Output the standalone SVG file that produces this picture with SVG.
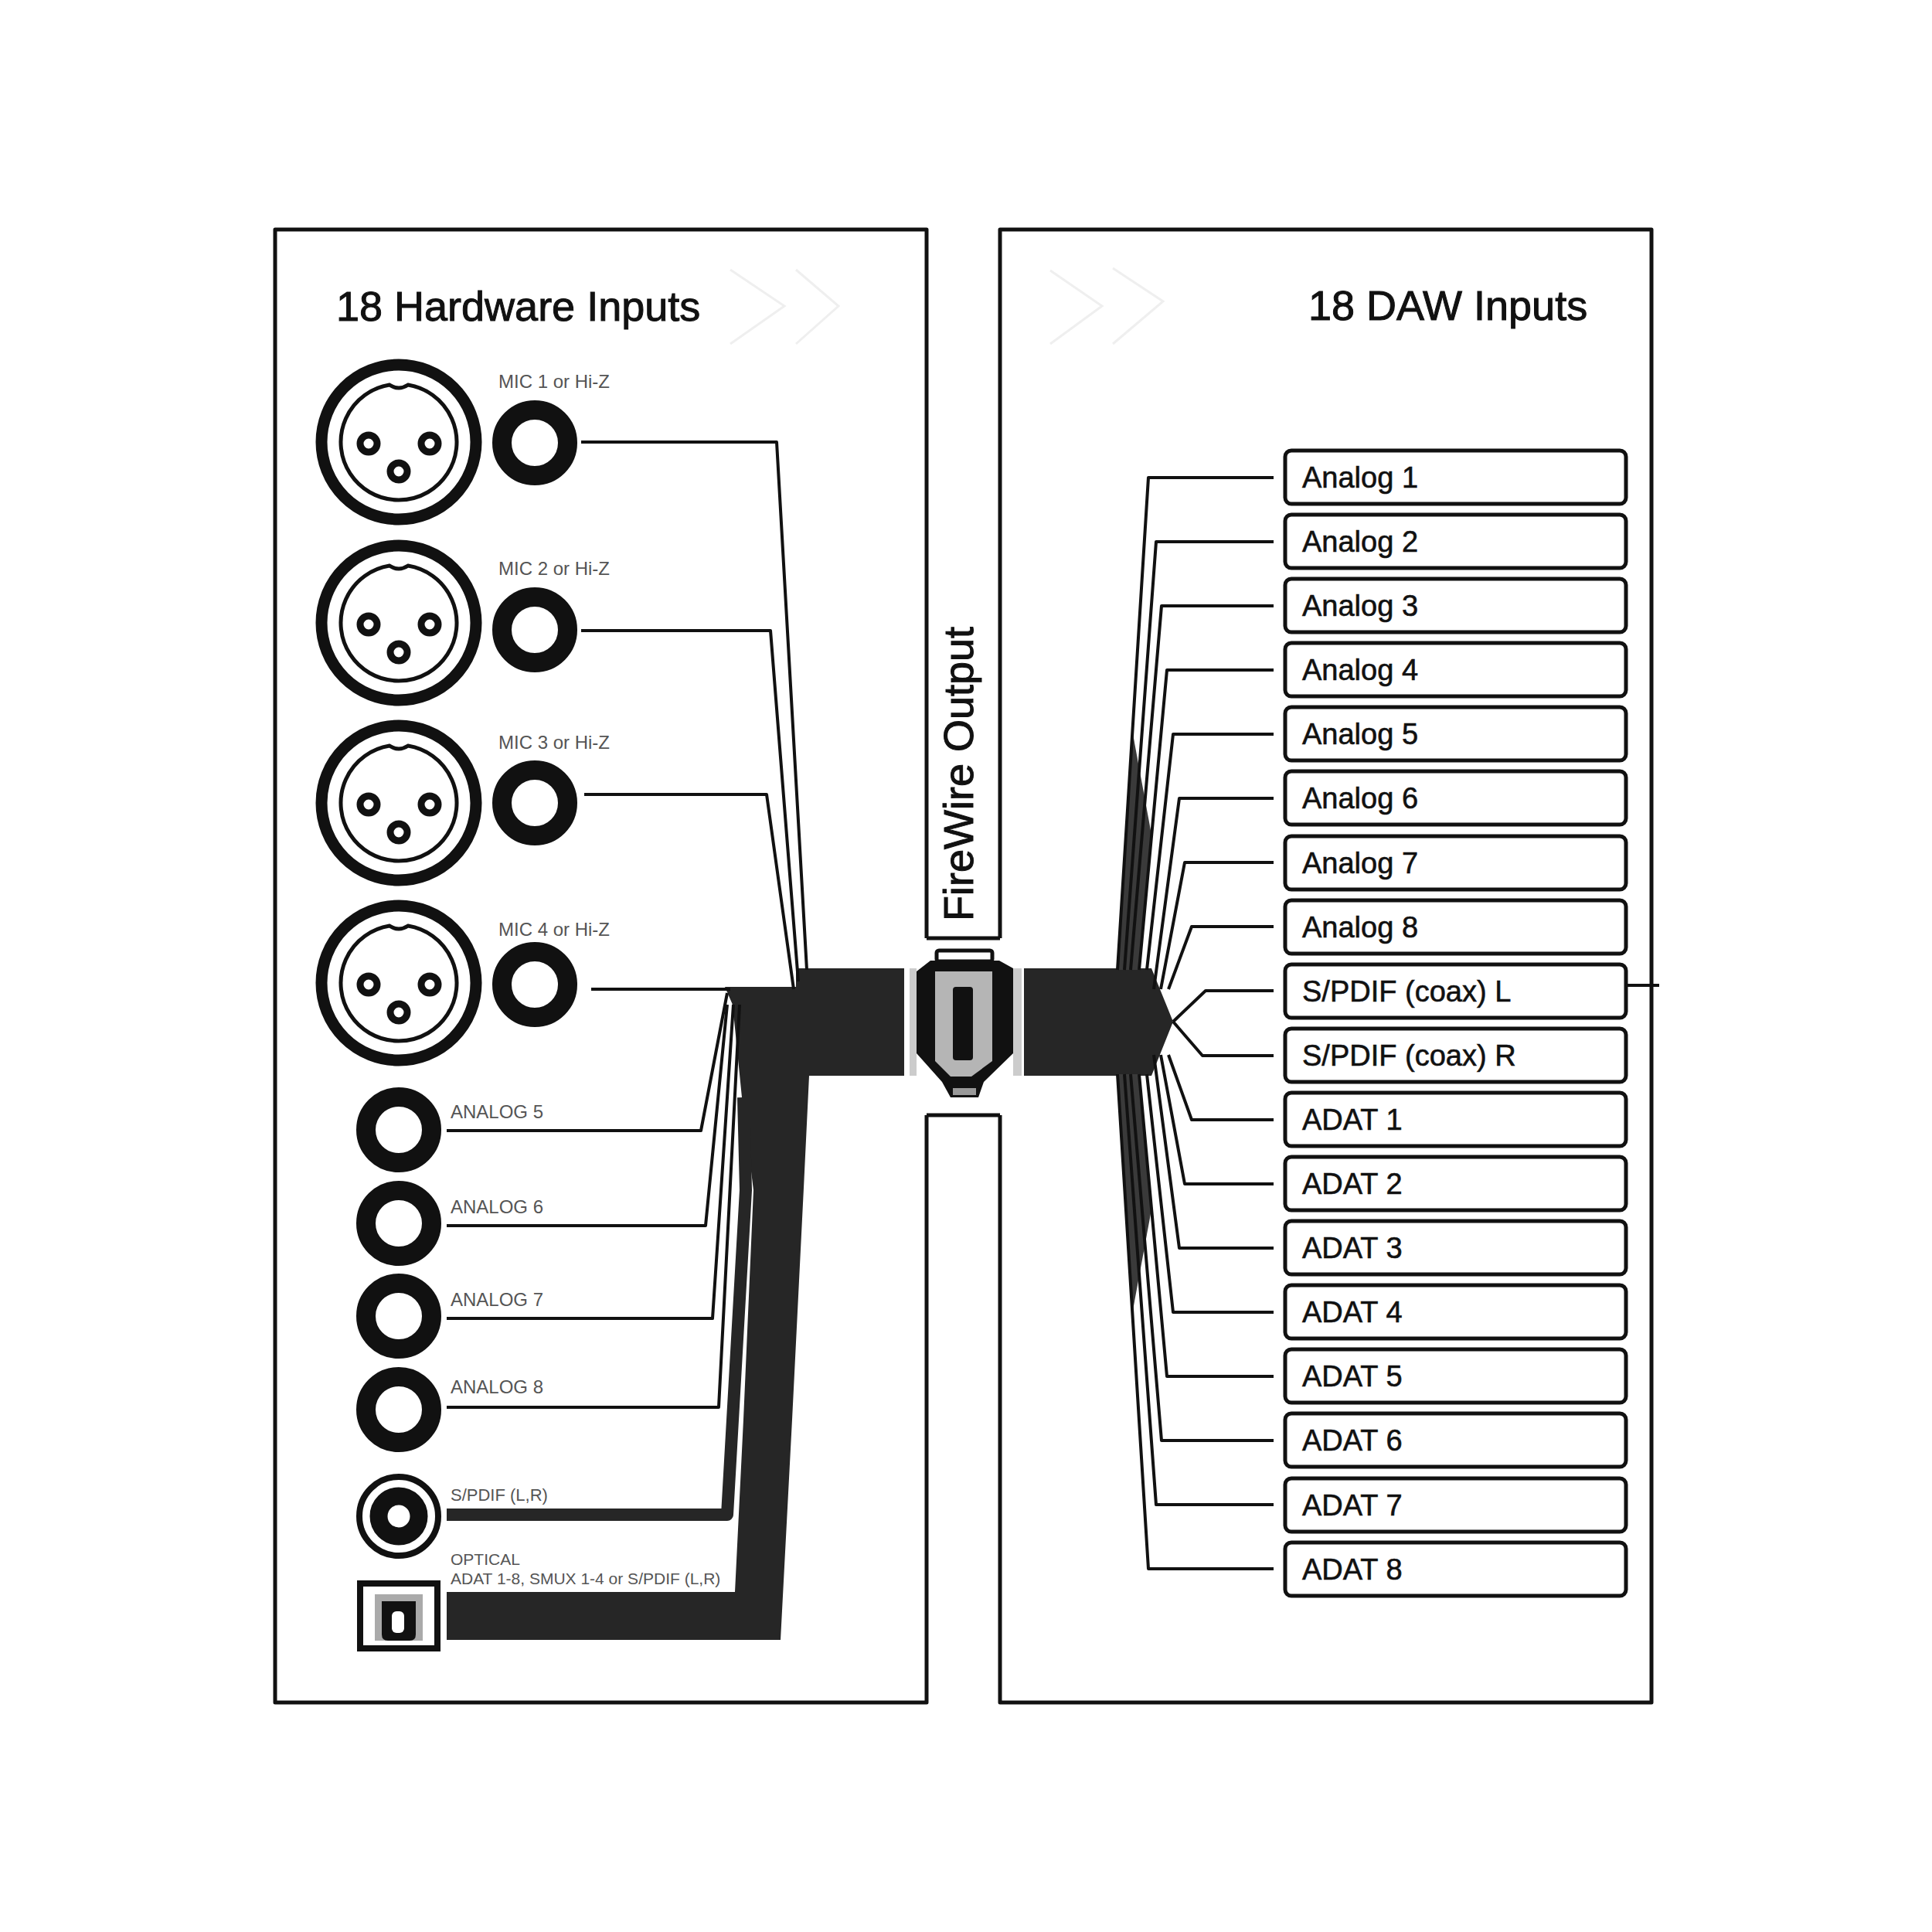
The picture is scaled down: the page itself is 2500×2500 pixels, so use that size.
<svg xmlns="http://www.w3.org/2000/svg" width="2500" height="2500" viewBox="0 0 2500 2500">
<style>
text{font-family:"Liberation Sans",Arial,sans-serif;fill:#111}
.title{font-size:54px;stroke:#111;stroke-width:1}
.small{font-size:24px;fill:#555}
.tiny{font-size:21px;fill:#555}
.box{fill:#fff;stroke:#111;stroke-width:5}
.name{font-size:38px;stroke:#111;stroke-width:.6}
.panel{fill:none;stroke:#111;stroke-width:5;stroke-linejoin:round}
.wire{fill:none;stroke:#111;stroke-width:4;stroke-linejoin:round}
.bus{fill:#262626;stroke:none}
.mass{fill:#3a3a3a;stroke:none}
.chev{fill:none;stroke:#efefef;stroke-width:3}
</style>
<defs>
<g id="xlr">
<circle r="100" fill="#fff" stroke="#111" stroke-width="15"/>
<path d="M-12,-74 A75,75 0 1 0 12,-74 Q0,-66 -12,-74Z" fill="none" stroke="#111" stroke-width="5"/>
<circle cx="-39" cy="2" r="11" fill="#fff" stroke="#111" stroke-width="9"/>
<circle cx="40" cy="2" r="11" fill="#fff" stroke="#111" stroke-width="9"/>
<circle cx="0" cy="38" r="11" fill="#fff" stroke="#111" stroke-width="9"/>
</g>
<circle id="jack" r="42.500" fill="#fff" stroke="#111" stroke-width="25"/>
</defs>

<g id="panels">
<path class="panel" d="M1199,1214V297H356V2203H1199V1443"/>
<path class="panel" d="M1294,1214V297H2137V2203H1294V1443"/>
<path class="panel" d="M1199,1214H1294M1199,1443H1294"/>
</g>
<g id="chevrons">
<path class="chev" d="M945,349L1015,396L945,445M1030,349L1085,396L1030,445"/>
<path class="chev" d="M1359,350L1426,396L1359,445M1440,347L1505,390L1440,445"/>
</g>

<g id="connectors">
<path class="bus" d="M938,1277H1030V1253H1170V1392H1047L1040,1537L1025,1837L1010,2122H578V2060H951L962,1837L975,1540L960,1420L948,1300Z"/>
<path class="bus" d="M1325,1253H1490L1518,1322L1490,1392H1325Z"/>
<path class="mass" d="M1466,950L1490,1080L1474,1255H1446Z"/>
<path class="mass" d="M1466,1695L1490,1565L1474,1390H1446Z"/>
<path class="wire" d="M752,572H1005L1044,1255"/>
<path class="wire" d="M752,816H997L1033,1270"/>
<path class="wire" d="M756,1028H992L1027,1280"/>
<path class="wire" d="M765,1280H945"/>
<path class="wire" d="M578,1463H907L941,1285"/>
<path class="wire" d="M578,1586H913L941,1300"/>
<path class="wire" d="M578,1706H922L949,1300"/>
<path class="wire" d="M578,1821H930L957,1300"/>
<path class="wire" style="stroke-width:16;stroke:#262626" d="M578,1960H941L965,1540L962,1420"/>
<path class="wire" d="M1648,618H1486L1446,1255"/>
<path class="wire" d="M1648,701H1496L1455,1255"/>
<path class="wire" d="M1648,784H1503L1463,1255"/>
<path class="wire" d="M1648,867H1510L1474,1255"/>
<path class="wire" d="M1648,950H1518L1484,1255"/>
<path class="wire" d="M1648,1033H1526L1493,1280"/>
<path class="wire" d="M1648,1116H1533L1502,1280"/>
<path class="wire" d="M1648,1199H1542L1512,1280"/>
<path class="wire" d="M1648,1282H1560L1518,1322"/>
<path class="wire" d="M1648,1366H1556L1518,1322"/>
<path class="wire" d="M1648,1449H1542L1512,1365"/>
<path class="wire" d="M1648,1532H1533L1502,1365"/>
<path class="wire" d="M1648,1615H1526L1493,1365"/>
<path class="wire" d="M1648,1698H1518L1484,1390"/>
<path class="wire" d="M1648,1781H1510L1474,1390"/>
<path class="wire" d="M1648,1864H1503L1463,1390"/>
<path class="wire" d="M1648,1947H1496L1455,1390"/>
<path class="wire" d="M1648,2030H1486L1446,1390"/>
<path class="wire" d="M2104,1275H2147"/>
</g>

<g id="firewire">
<rect x="1177" y="1253" width="9" height="139" fill="#ccc"/>
<rect x="1311" y="1253" width="11" height="139" fill="#ccc"/>
<rect x="1212" y="1230" width="72" height="14" rx="3" fill="#fff" stroke="#111" stroke-width="5"/>
<path d="M1204,1243H1293L1311,1253V1363L1273,1400L1266,1420H1230L1219,1400L1186,1363V1257Z" fill="#111"/>
<path d="M1210,1257H1284V1373L1257,1393H1230L1210,1373Z" fill="#b5b5b5"/>
<rect x="1233" y="1277" width="26" height="95" rx="4" fill="#111"/>
<rect x="1233" y="1408" width="30" height="9" fill="#999"/>
<text class="title" transform="translate(1259,1192) rotate(-90)">FireWire Output</text>
</g>

<g id="hardware-title"><text class="title" x="435" y="415">18 Hardware Inputs</text></g>
<g id="daw-title"><text class="title" x="1693" y="414">18 DAW Inputs</text></g>

<g id="mic1"><use href="#xlr" x="516" y="572"/><use href="#jack" x="692" y="573"/><text class="small" x="645" y="502">MIC 1 or Hi-Z</text></g>
<g id="mic2"><use href="#xlr" x="516" y="806"/><use href="#jack" x="692" y="815"/><text class="small" x="645" y="744">MIC 2 or Hi-Z</text></g>
<g id="mic3"><use href="#xlr" x="516" y="1039"/><use href="#jack" x="692" y="1039"/><text class="small" x="645" y="969">MIC 3 or Hi-Z</text></g>
<g id="mic4"><use href="#xlr" x="516" y="1272"/><use href="#jack" x="692" y="1274"/><text class="small" x="645" y="1211">MIC 4 or Hi-Z</text></g>
<g id="analog5"><use href="#jack" x="516" y="1462"/><text class="small" x="583" y="1447">ANALOG 5</text></g>
<g id="analog6"><use href="#jack" x="516" y="1583"/><text class="small" x="583" y="1570">ANALOG 6</text></g>
<g id="analog7"><use href="#jack" x="516" y="1703"/><text class="small" x="583" y="1690">ANALOG 7</text></g>
<g id="analog8"><use href="#jack" x="516" y="1824"/><text class="small" x="583" y="1803">ANALOG 8</text></g>
<g id="spdif-in">
<circle cx="516" cy="1962" r="51" fill="#fff" stroke="#111" stroke-width="8"/>
<circle cx="516" cy="1962" r="26" fill="#fff" stroke="#111" stroke-width="23"/>
<text class="tiny" style="font-size:22px" x="583" y="1942">S/PDIF (L,R)</text>
</g>
<g id="optical">
<rect x="466" y="2049" width="100" height="84" fill="#fff" stroke="#111" stroke-width="8"/>
<rect x="485" y="2063" width="62" height="60" fill="#aaa"/>
<path d="M494,2072H538V2115Q538,2123 530,2123H502Q494,2123 494,2115Z" fill="#111"/>
<rect x="507" y="2085" width="16" height="28" rx="6" fill="#fff"/>
<text class="tiny" x="583" y="2025">OPTICAL</text>
<text class="tiny" x="583" y="2050">ADAT 1-8, SMUX 1-4 or S/PDIF (L,R)</text>
</g>

<g id="daw1"><rect class="box" x="1663" y="583" width="441" height="69" rx="8"/><text class="name" x="1685" y="631">Analog 1</text></g>
<g id="daw2"><rect class="box" x="1663" y="666" width="441" height="69" rx="8"/><text class="name" x="1685" y="714">Analog 2</text></g>
<g id="daw3"><rect class="box" x="1663" y="749" width="441" height="69" rx="8"/><text class="name" x="1685" y="797">Analog 3</text></g>
<g id="daw4"><rect class="box" x="1663" y="832" width="441" height="69" rx="8"/><text class="name" x="1685" y="880">Analog 4</text></g>
<g id="daw5"><rect class="box" x="1663" y="915" width="441" height="69" rx="8"/><text class="name" x="1685" y="963">Analog 5</text></g>
<g id="daw6"><rect class="box" x="1663" y="998" width="441" height="69" rx="8"/><text class="name" x="1685" y="1046">Analog 6</text></g>
<g id="daw7"><rect class="box" x="1663" y="1082" width="441" height="69" rx="8"/><text class="name" x="1685" y="1130">Analog 7</text></g>
<g id="daw8"><rect class="box" x="1663" y="1165" width="441" height="69" rx="8"/><text class="name" x="1685" y="1213">Analog 8</text></g>
<g id="daw9"><rect class="box" x="1663" y="1248" width="441" height="69" rx="8"/><text class="name" x="1685" y="1296">S/PDIF (coax) L</text></g>
<g id="daw10"><rect class="box" x="1663" y="1331" width="441" height="69" rx="8"/><text class="name" x="1685" y="1379">S/PDIF (coax) R</text></g>
<g id="daw11"><rect class="box" x="1663" y="1414" width="441" height="69" rx="8"/><text class="name" x="1685" y="1462">ADAT 1</text></g>
<g id="daw12"><rect class="box" x="1663" y="1497" width="441" height="69" rx="8"/><text class="name" x="1685" y="1545">ADAT 2</text></g>
<g id="daw13"><rect class="box" x="1663" y="1580" width="441" height="69" rx="8"/><text class="name" x="1685" y="1628">ADAT 3</text></g>
<g id="daw14"><rect class="box" x="1663" y="1663" width="441" height="69" rx="8"/><text class="name" x="1685" y="1711">ADAT 4</text></g>
<g id="daw15"><rect class="box" x="1663" y="1746" width="441" height="69" rx="8"/><text class="name" x="1685" y="1794">ADAT 5</text></g>
<g id="daw16"><rect class="box" x="1663" y="1829" width="441" height="69" rx="8"/><text class="name" x="1685" y="1877">ADAT 6</text></g>
<g id="daw17"><rect class="box" x="1663" y="1913" width="441" height="69" rx="8"/><text class="name" x="1685" y="1961">ADAT 7</text></g>
<g id="daw18"><rect class="box" x="1663" y="1996" width="441" height="69" rx="8"/><text class="name" x="1685" y="2044">ADAT 8</text></g>
</svg>
